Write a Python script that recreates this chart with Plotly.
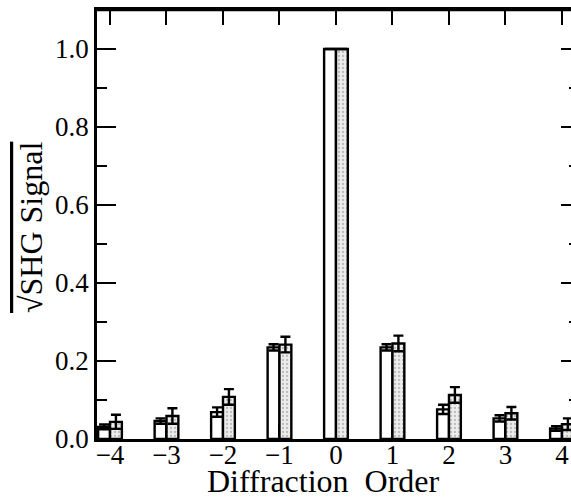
import plotly.graph_objects as go

orders = [-4, -3, -2, -1, 0, 1, 2, 3, 4]
order_labels = ["−4", "−3", "−2", "−1", "0", "1", "2", "3", "4"]
open_vals = [0.031, 0.046, 0.069, 0.235, 1.0, 0.235, 0.076, 0.053, 0.027]
open_err = [0.006, 0.007, 0.012, 0.008, 0.0, 0.008, 0.012, 0.008, 0.006]
shaded_vals = [0.044, 0.059, 0.108, 0.242, 1.0, 0.245, 0.113, 0.066, 0.038]
shaded_err = [0.018, 0.020, 0.020, 0.020, 0.0, 0.020, 0.020, 0.016, 0.015]
y_ticks = [0.0, 0.2, 0.4, 0.6, 0.8, 1.0]

FONT = "Liberation Serif"
W, H = 571, 504
L, R, T, B = 97, 0, 10, 65
X_RANGE = [-4.23, 4.16]
Y_RANGE = [0, 1.1]

fig = go.Figure()
fig.add_trace(go.Bar(
    x=orders, y=open_vals,
    marker=dict(color="white", line=dict(color="black", width=2.4)),
    error_y=dict(type="data", array=open_err, color="black", thickness=2.4, width=5),
    showlegend=False,
))
fig.add_trace(go.Bar(
    x=orders, y=shaded_vals,
    marker=dict(color="#e4e4e4", line=dict(color="black", width=2.4),
                pattern=dict(shape=".", fgcolor="#8a8a8a", bgcolor="#ececec", size=4, solidity=0.25)),
    error_y=dict(type="data", array=shaded_err, color="black", thickness=2.4, width=5),
    showlegend=False,
))
# helper trace for the top axis and the right-hand (cut-off) axis
fig.add_trace(go.Scatter(x=[orders[0]], y=[y_ticks[0]], xaxis="x2", yaxis="y2", mode="markers",
                         marker=dict(opacity=0), showlegend=False, hoverinfo="skip"))

fig.update_layout(
    width=W, height=H,
    margin=dict(l=L, r=R, t=T, b=B, autoexpand=False),
    paper_bgcolor="white", plot_bgcolor="white",
    barmode="group", bargap=0.58, bargroupgap=0,
    font=dict(family=FONT, color="black", size=26),
    xaxis=dict(
        range=X_RANGE, tickvals=orders, ticktext=order_labels,
        ticks="inside", ticklen=15, tickwidth=2, tickcolor="black",
        showline=True, linewidth=2.5, linecolor="black", mirror="ticks",
        showgrid=False, zeroline=False, automargin=False,
        ticklabelstandoff=-10,
        tickfont=dict(family=FONT, size=27, color="black"),
    ),
    xaxis2=dict(
        overlaying="x", side="top", anchor="y2",
        range=X_RANGE, tickvals=orders, showticklabels=False,
        ticks="inside", ticklen=15, tickwidth=2, tickcolor="black",
        showline=True, linewidth=2.5, linecolor="black",
        showgrid=False, zeroline=False, automargin=False,
    ),
    yaxis=dict(
        range=Y_RANGE, tickvals=y_ticks, tickformat=".1f",
        ticks="inside", ticklen=19, tickwidth=2, tickcolor="black",
        minor=dict(dtick=0.1, ticks="inside", ticklen=10, tickwidth=2, tickcolor="black"),
        showline=True, linewidth=2.5, linecolor="black", mirror=False,
        showgrid=False, zeroline=False, automargin=False,
        tickfont=dict(family=FONT, size=27, color="black"),
    ),
    yaxis2=dict(
        overlaying="y", side="right", anchor="free", position=1.0,
        range=Y_RANGE, tickvals=y_ticks, showticklabels=False,
        ticks="inside", ticklen=10, tickwidth=2, tickcolor="black",
        minor=dict(dtick=0.1, ticks="inside", ticklen=2, tickwidth=2, tickcolor="black"),
        showline=False, showgrid=False, zeroline=False, automargin=False,
    ),
    shapes=[
        dict(type="line", xref="paper", yref="paper", x0=0, x1=1, y0=1, y1=1,
             line=dict(color="black", width=2.5), layer="above"),
    ],
    annotations=[
        dict(text="Diffraction  Order", xref="paper", yref="paper",
             x=(323 - L) / (W - L - R), y=(439 - 481) / (H - T - B),
             xanchor="center", yanchor="middle", showarrow=False,
             font=dict(family=FONT, size=32, color="black")),
        dict(text="√SHG Signal", xref="paper", yref="paper",
             x=(31 - L) / (W - L - R), y=(439 - 228) / (H - T - B),
             xanchor="center", yanchor="middle", showarrow=False, textangle=-90,
             font=dict(family=FONT, size=32, color="black", lineposition="over")),
    ],
)

fig.write_html(
    "out.html",
    config={"displayModeBar": False},
    post_script="document.body.style.margin='0';document.body.style.overflow='hidden';",
)
